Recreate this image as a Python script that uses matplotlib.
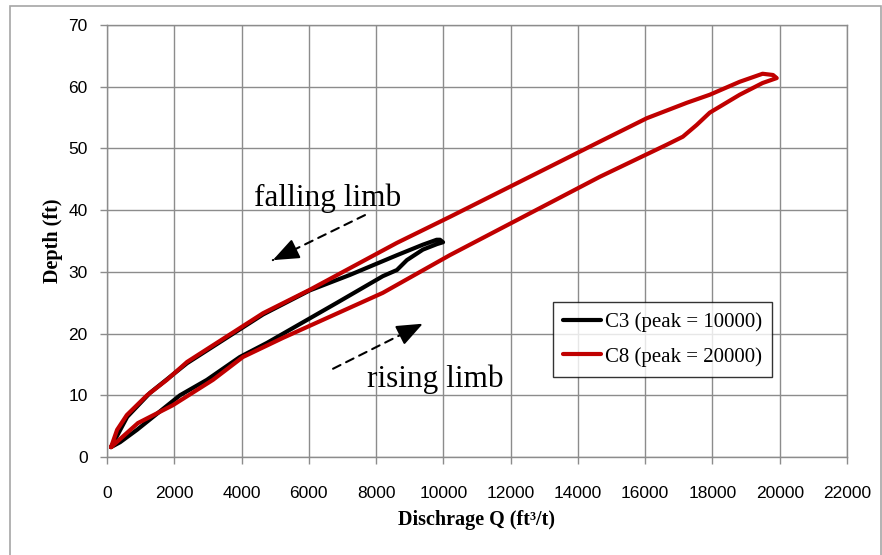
import matplotlib
matplotlib.use("Agg")
import matplotlib.pyplot as plt
from matplotlib.patches import Rectangle

# C8 (peak = 20000): rising limb then falling limb
q_c8_rise = [120, 920, 1960, 3150, 4040, 5230, 8200, 10190, 14650, 16640, 17120, 17530, 17920, 18810, 19490, 19910]
d_c8_rise = [1.6, 5.5, 8.4, 12.5, 16.2, 19.3, 26.6, 32.7, 45.4, 50.6, 51.9, 53.8, 55.8, 58.7, 60.6, 61.4]
q_c8_fall = [19910, 19800, 19490, 18810, 17920, 17240, 16050, 14650, 10190, 8620, 6030, 4640, 2380, 1780, 1190, 590, 300, 120]
d_c8_fall = [61.4, 61.9, 62.1, 60.8, 58.7, 57.4, 54.9, 51.1, 38.9, 34.7, 27.1, 23.3, 15.4, 12.5, 10.0, 6.8, 4.4, 1.6]

# C3 (peak = 10000)
q_c3_rise = [120, 390, 890, 2170, 2970, 3950, 4760, 6840, 8200, 8620, 8915, 9390, 9810, 9990]
d_c3_rise = [1.6, 2.4, 4.4, 10.0, 12.5, 16.2, 18.5, 25.0, 29.3, 30.3, 31.9, 33.6, 34.5, 34.8]
q_c3_fall = [9990, 9900, 9800, 9390, 8620, 7220, 6030, 4640, 2380, 1280, 600, 120]
d_c3_fall = [34.8, 35.2, 35.2, 34.4, 32.7, 29.5, 27.0, 23.1, 15.2, 10.4, 6.5, 1.6]

x_ticks = list(range(0, 22001, 2000))
y_ticks = list(range(0, 71, 10))

fig = plt.figure(figsize=(8.82, 5.55), dpi=100)
ax = fig.add_axes([107/882, 1-457/555, (847-107)/882, (457-25)/555])

# outer chart border
fig.patches.append(Rectangle((10/882, -0.02), 871/882, 1.02-6/555, transform=fig.transFigure,
                             fill=False, edgecolor="#a6a6a6", linewidth=1.2))

ax.plot(q_c3_rise + q_c3_fall, d_c3_rise + d_c3_fall, color="black", lw=3,
        solid_joinstyle="round", solid_capstyle="round", label="C3 (peak = 10000)")
ax.plot(q_c8_rise + q_c8_fall, d_c8_rise + d_c8_fall, color="#c00000", lw=3,
        solid_joinstyle="round", solid_capstyle="round", label="C8 (peak = 20000)")

ax.set_xlim(0, 22000)
ax.set_ylim(0, 70)
ax.set_xticks(x_ticks)
ax.set_yticks(y_ticks)
ax.grid(True, color="#8c8c8c", linewidth=1.0)
ax.set_axisbelow(True)
for s in ax.spines.values():
    s.set_color("#8c8c8c")
    s.set_linewidth(1.0)
ax.tick_params(length=5, color="#8c8c8c", width=1.0)
ax.tick_params(axis="x", pad=16)
ax.tick_params(axis="y", pad=9)
for lab in ax.get_xticklabels() + ax.get_yticklabels():
    lab.set_fontfamily("Liberation Sans")
    lab.set_fontsize(12.5)

ax.set_xlabel("Dischrage Q (ft³/t)", fontfamily="Liberation Serif", fontweight="bold",
              fontsize=14.5, labelpad=6)
ax.set_ylabel("Depth (ft)", fontfamily="Liberation Serif", fontweight="bold",
              fontsize=14.5, labelpad=4)

# annotation arrows: dashed shaft plus a solid head
arrows = [((7670, 39.2), (4930, 31.9)), ((6720, 14.3), (9390, 21.6))]
for (x0, y0), (x1, y1) in arrows:
    ax.annotate("", xy=(x1, y1), xytext=(x0, y0),
                arrowprops=dict(arrowstyle="-", color="black", lw=1.5,
                                linestyle=(0, (4, 3)), shrinkA=0, shrinkB=0))
    ax.annotate("", xy=(x1, y1), xytext=(x1 - 0.2*(x1 - x0), y1 - 0.2*(y1 - y0)),
                arrowprops=dict(arrowstyle="-|>,head_length=0.8,head_width=0.32", color="black",
                                lw=1.5, shrinkA=0, shrinkB=0, mutation_scale=20))

ax.text(6570, 40.7, "falling limb", fontfamily="Liberation Serif", fontsize=22.5,
        ha="center", va="baseline")
ax.text(9760, 11.3, "rising limb", fontfamily="Liberation Serif", fontsize=22.5,
        ha="center", va="baseline")

leg = ax.legend(loc="upper left", bbox_to_anchor=(552.7/882, 1-301.7/555),
                bbox_transform=fig.transFigure, frameon=True, fancybox=False,
                prop={"family": "Liberation Serif", "size": 15}, handlelength=1.8,
                handletextpad=0.2, borderpad=0.5, labelspacing=0.72, borderaxespad=0)
leg.get_frame().set_edgecolor("black")
leg.get_frame().set_linewidth(1.0)

fig.savefig("out.png", dpi=100)
